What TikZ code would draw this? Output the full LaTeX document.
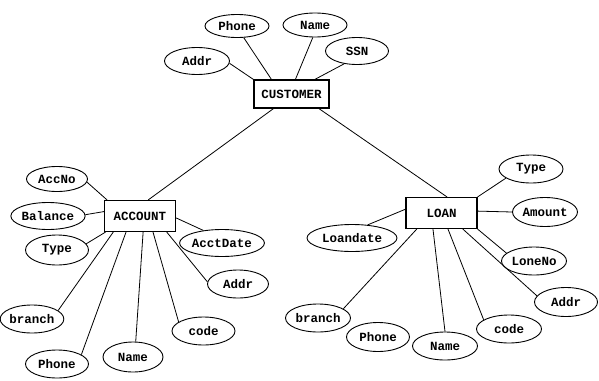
\documentclass[tikz,border=0pt]{standalone}
\usepackage{fontspec}
\setmonofont{Liberation Mono}
\usetikzlibrary{shapes.geometric}
\begin{document}
\begin{tikzpicture}[x=1pt,y=-1pt,
  attr/.style={draw,ellipse,line width=0.9pt,inner sep=0pt,minimum width=#1,minimum height=28pt,font=\ttfamily\bfseries\fontsize{12.5}{13}\selectfont},
  attr/.default=63pt,
  ent/.style={draw,rectangle,line width=1.1pt,inner sep=0pt,minimum width=#1,minimum height=31pt,font=\ttfamily\bfseries\fontsize{12.5}{13}\selectfont},
  ent/.default=71pt,
  conn/.style={line width=0.8pt}]
\useasboundingbox (0,0) rectangle (599,380);
% entities
\node[ent=75pt,minimum height=28pt] (cust) at (291.5,94) {CUSTOMER};
\node[ent=71pt] (acct) at (140,216) {ACCOUNT};
\node[ent=71pt] (loan) at (441.5,213) {LOAN};
% customer attributes
\node[attr=64pt,minimum height=23pt] (cphone) at (237,26) {Phone};
\node[attr=64pt,minimum height=24pt] (cname) at (315,25) {Name};
\node[attr=63pt,minimum height=27pt] (cssn) at (357,51) {SSN};
\node[attr=65pt,minimum height=27pt] (caddr) at (197,61) {Addr};
% account attributes
\node[attr=61pt,minimum height=25pt] (accno) at (57,179) {AccNo};
\node[attr=63pt,minimum height=27pt] (abal) at (48,216) {Balance};
\node[attr=63pt,minimum height=30pt] (atype) at (57,250) {Type};
\node[attr=73pt,minimum height=27pt] (adate) at (222,243) {AcctDate};
\node[attr=61pt,minimum height=28pt] (aaddr) at (238,284) {Addr};
\node[attr=63pt] (abranch) at (32,319) {branch};
\node[attr=63pt] (acode) at (203.5,331) {code};
\node[attr=63pt] (aphone) at (57,364) {Phone};
\node[attr=60pt,minimum height=30pt] (aname) at (133,357) {Name};
% loan attributes
\node[attr=64pt] (ltype) at (531,169) {Type};
\node[attr=65pt,minimum height=29pt] (lamount) at (545,212) {Amount};
\node[attr=90pt,minimum height=27pt] (ldate) at (352,238) {Loandate};
\node[attr=65pt] (llone) at (534,261) {LoneNo};
\node[attr=63pt,minimum height=29pt] (laddr) at (566,302) {Addr};
\node[attr=65pt] (lbranch) at (318,318) {branch};
\node[attr=63pt,minimum height=29pt] (lphone) at (378,337) {Phone};
\node[attr=65pt] (lname) at (445,346) {Name};
\node[attr=65pt] (lcode) at (509,329) {code};
% customer connectors
\draw[conn] (caddr.356) -- (cust.north west);
\draw[conn] (cphone.300) -- (cust.144);
\draw[conn] (cname.260) -- (cust.75);
\draw[conn] (cssn.225) -- (cust.32);
\draw[conn] (cust.219) -- (acct.63);
\draw[conn] (cust.332) -- (loan.71);
% account connectors
\draw[conn] (accno.354) -- (acct.154);
\draw[conn] (abal.2) -- (acct.173);
\draw[conn] (atype.12) -- (acct.205);
\draw[conn] (abranch.18) -- (acct.211);
\draw[conn] (aphone.21) -- (acct.229);
\draw[conn] (aname.80) -- (acct.281);
\draw[conn] (acode.160) -- (acct.309);
\draw[conn] (aaddr.176) -- (acct.329);
\draw[conn] (adate.146) -- (acct.357);
% loan connectors
\draw[conn] (ltype.200) -- (loan.north east);
\draw[conn] (lamount.180) -- (loan.3);
\draw[conn] (ldate.40) -- (loan.174);
\draw[conn] (llone.164) -- (loan.south east);
\draw[conn] (laddr.168) -- (loan.323);
\draw[conn] (lcode.160) -- (loan.292);
\draw[conn] (lname.90) -- (loan.242);
\draw[conn] (lbranch.20) -- (loan.213);
\end{tikzpicture}
\end{document}
